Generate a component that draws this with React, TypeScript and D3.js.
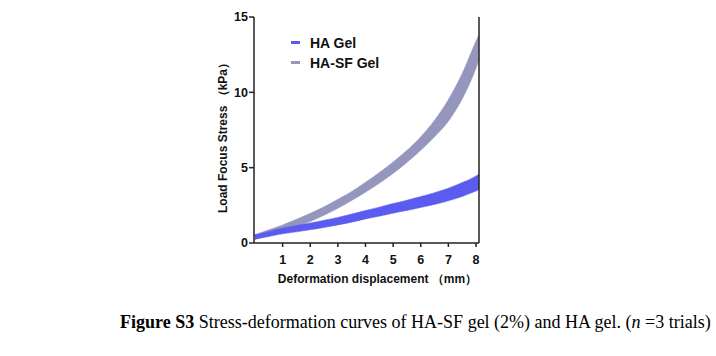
import React from "react";
import * as d3 from "d3";

const xs = [0, 0.5, 1, 1.5, 2, 2.5, 3, 3.5, 4, 4.5, 5, 5.5, 6, 6.5, 7, 7.5, 8, 8.1];
const haMean = [0.4, 0.6, 0.8, 0.95, 1.1, 1.27, 1.45, 1.65, 1.88, 2.08, 2.3, 2.5, 2.72, 2.95, 3.22, 3.55, 3.95, 4.05];
const haSd = [0.15, 0.17, 0.19, 0.21, 0.22, 0.24, 0.25, 0.27, 0.28, 0.3, 0.32, 0.34, 0.36, 0.39, 0.42, 0.46, 0.5, 0.52];
const sfMean = [0.4, 0.68, 0.98, 1.32, 1.7, 2.12, 2.6, 3.12, 3.7, 4.32, 5.0, 5.75, 6.6, 7.6, 8.8, 10.4, 12.5, 12.95];
const sfSd = [0.15, 0.2, 0.22, 0.25, 0.27, 0.28, 0.3, 0.3, 0.33, 0.36, 0.38, 0.4, 0.45, 0.55, 0.72, 0.85, 0.9, 0.85];
const xTicks = [1, 2, 3, 4, 5, 6, 7, 8];
const yTicks = [0, 5, 10, 15];
const seriesNames = ["HA Gel", "HA-SF Gel"];
const seriesColors = ["#5b5bf0", "#9496bd"];

export default function App() {
  const left = 254, right = 479, top = 17, bottom = 243;
  const x = d3.scaleLinear().domain([0, 8]).range([255, 476]);
  const y = d3.scaleLinear().domain([0, 15]).range([bottom, top]);
  const font = "'Liberation Sans', Arial, sans-serif";

  const mk = (mean: number[], sd: number[]) =>
    d3
      .area<number>()
      .x((_, i) => x(xs[i]))
      .y0((_, i) => y(mean[i] - sd[i]))
      .y1((_, i) => y(mean[i] + sd[i]))
      .curve(d3.curveMonotoneX)(xs.map((_, i) => i)) as string;

  const haPath = mk(haMean, haSd);
  const sfPath = mk(sfMean, sfSd);

  return (
    <svg
      width={716}
      height={356}
      style={{ position: "absolute", left: 0, top: 0, background: "#fff" }}
    >
      <rect x={0} y={0} width={716} height={356} fill="#fff" />
      {/* bands */}
      <path d={sfPath} fill={seriesColors[1]} stroke={seriesColors[1]} strokeWidth={0.8} strokeDasharray="1 0.6" />
      <path d={haPath} fill={seriesColors[0]} stroke={seriesColors[0]} strokeWidth={0.8} strokeDasharray="1 0.6" />

      {/* axes */}
      <line x1={left} y1={top} x2={left} y2={bottom} stroke="#222" strokeWidth={1.5} />
      <line x1={right} y1={top} x2={right} y2={bottom} stroke="#222" strokeWidth={1.5} />
      <line x1={left} y1={bottom} x2={right} y2={bottom} stroke="#222" strokeWidth={1.5} />
      {yTicks.map((t) => (
        <g key={"y" + t}>
          <line x1={left - 5} x2={left} y1={y(t)} y2={y(t)} stroke="#222" strokeWidth={1.5} />
          <text
            x={left - 6}
            y={y(t) + 4.3}
            textAnchor="end"
            fontFamily={font}
            fontWeight="bold"
            fontSize={12.5}
            fill="#111"
          >
            {t}
          </text>
        </g>
      ))}
      {xTicks.map((t) => (
        <g key={"x" + t}>
          <line x1={x(t)} x2={x(t)} y1={bottom} y2={bottom + 4} stroke="#222" strokeWidth={1.5} />
          <text
            x={x(t)}
            y={264}
            textAnchor="middle"
            fontFamily={font}
            fontWeight="bold"
            fontSize={12.5}
            fill="#111"
          >
            {t}
          </text>
        </g>
      ))}
      <text
        x={377.5}
        y={282.5}
        textAnchor="middle"
        fontFamily={font}
        fontWeight="bold"
        fontSize={12}
        fill="#111"
      >
        Deformation displacement （mm）
      </text>
      <text
        transform={`translate(227,135) rotate(-90)`}
        textAnchor="middle"
        fontFamily={font}
        fontWeight="bold"
        fontSize={12}
        fill="#111"
      >
        Load Focus Stress （kPa）
      </text>

      {/* legend */}
      {seriesNames.map((n, i) => (
        <g key={n}>
          <line
            x1={291}
            x2={300}
            y1={42.5 + i * 20}
            y2={42.5 + i * 20}
            stroke={seriesColors[i]}
            strokeWidth={3}
          />
          <text
            x={310}
            y={47.5 + i * 20}
            fontFamily={font}
            fontWeight="bold"
            fontSize={14}
            fill="#111"
          >
            {n}
          </text>
        </g>
      ))}

      {/* caption */}
      <text
        x={120}
        y={328}
        fontFamily="'Liberation Serif', 'Times New Roman', serif"
        fontSize={18}
        fill="#000"
      >
        <tspan fontWeight="bold">Figure S3</tspan>
        <tspan> Stress-deformation curves of HA-SF gel (2%) and HA gel. (</tspan>
        <tspan fontStyle="italic">n</tspan>
        <tspan> =3 trials)</tspan>
      </text>
    </svg>
  );
}
